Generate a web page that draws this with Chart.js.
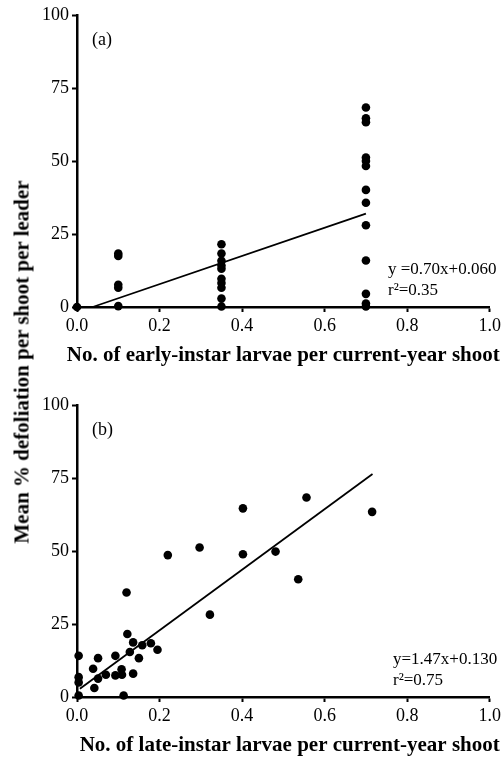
<!DOCTYPE html>
<html>
<head>
<meta charset="utf-8">
<script src="https://cdn.jsdelivr.net/npm/chart.js@4/dist/chart.umd.min.js"></script>
<style>
  body { margin: 0; background: #fff; }
  #wrap { position: relative; width: 504px; height: 759px; }
  canvas { position: absolute; left: 0; }
  #chartA { top: 0; }
  #chartB { top: 380px; }
  #ytitle {
    position: absolute; left: 22px; top: 362px;
    transform: translate(-50%, -50%) rotate(-90deg);
    white-space: nowrap; color: #000;
    font: bold 21px "Liberation Serif", serif;
  }
</style>
</head>
<body>
<div id="wrap">
  <canvas id="chartA" width="504" height="380"></canvas>
  <canvas id="chartB" width="504" height="379"></canvas>
  <div id="ytitle">Mean % defoliation per shoot per leader</div>
</div>
<script>
// Panel (a): early-instar larvae
const earlyLarvae = [0,
  0.1, 0.1, 0.1, 0.1, 0.1,
  0.35, 0.35, 0.35, 0.35, 0.35, 0.35, 0.35, 0.35, 0.35, 0.35,
  0.7, 0.7, 0.7, 0.7, 0.7, 0.7, 0.7, 0.7, 0.7, 0.7, 0.7, 0.7, 0.7];
const earlyDefol = [0,
  18.3, 17.5, 7.6, 6.6, 0.3,
  21.5, 18.3, 15.8, 14.2, 13.1, 9.7, 8.2, 6.6, 2.9, 0.2,
  68.3, 64.6, 63.3, 51.2, 50.0, 48.3, 40.1, 35.7, 28.0, 15.9, 4.5, 1.2, 0.2];
const earlyFitX = [0.038, 0.70];
const earlyFitY = [0, 32];

// Panel (b): late-instar larvae
const lateLarvae = [0.004, 0.004, 0.004, 0.004, 0.039, 0.042, 0.051, 0.051, 0.070,
  0.093, 0.093, 0.108, 0.109, 0.113, 0.120, 0.122, 0.128, 0.136, 0.136, 0.150,
  0.158, 0.179, 0.195, 0.220, 0.297, 0.322, 0.402, 0.402, 0.481, 0.536, 0.556, 0.715];
const lateDefol = [14.1, 6.8, 5.0, 0.5, 9.7, 3.1, 13.3, 6.3, 7.6,
  14.1, 7.4, 9.5, 7.6, 0.5, 35.8, 21.6, 15.4, 18.7, 8.0, 13.3,
  17.7, 18.4, 16.2, 48.6, 51.2, 28.2, 64.6, 48.9, 49.8, 40.3, 68.3, 63.4];
const lateFitX = [0.007, 0.716];
const lateFitY = [2.8, 76.4];

const xTicks = [0, 0.2, 0.4, 0.6, 0.8, 1.0];
const yTicks = [0, 25, 50, 75, 100];

const serif = '"Liberation Serif", "Times New Roman", serif';

// draws panel letter, regression equation and x-axis title
const panelText = {
  id: 'panelText',
  afterDraw(chart, args, opts) {
    const ctx = chart.ctx;
    const area = chart.chartArea;
    ctx.save();
    ctx.fillStyle = '#000';
    ctx.textBaseline = 'middle';
    ctx.textAlign = 'left';
    ctx.font = '18px ' + serif;
    ctx.fillText(opts.label, area.left + 15, area.top + 25);
    ctx.font = '17px ' + serif;
    opts.eq.forEach((line, i) => {
      ctx.fillText(line, opts.eqX, area.bottom - 37 + i * 21);
    });
    ctx.font = 'bold 21px ' + serif;
    ctx.textAlign = 'right';
    ctx.fillText(opts.title, area.right + 10, area.bottom + opts.titleGap);
    ctx.restore();
  }
};

function toPoints(xs, ys) {
  return xs.map((x, i) => ({ x: x, y: ys[i] }));
}

function makeChart(id, xs, ys, fitX, fitY, top, xHeight, text) {
  return new Chart(document.getElementById(id), {
    type: 'scatter',
    data: {
      datasets: [
        {
          data: toPoints(xs, ys),
          pointRadius: 4.3,
          pointHoverRadius: 4.3,
          pointBackgroundColor: '#000',
          pointBorderWidth: 0,
          clip: false
        },
        {
          data: toPoints(fitX, fitY),
          showLine: true,
          borderColor: '#000',
          borderWidth: 1.8,
          pointRadius: 0,
          clip: false
        }
      ]
    },
    options: {
      responsive: false,
      animation: false,
      devicePixelRatio: 1,
      layout: { padding: { top: top, right: 14, left: 0, bottom: 0 } },
      plugins: {
        legend: { display: false },
        tooltip: { enabled: false },
        panelText: text
      },
      scales: {
        x: {
          type: 'linear',
          min: 0,
          max: 1,
          afterBuildTicks: s => { s.ticks = xTicks.map(v => ({ value: v })); },
          afterFit: s => { s.height = xHeight; },
          ticks: {
            color: '#000',
            padding: 3,
            maxRotation: 0,
            font: { family: serif, size: 18 },
            callback: v => v.toFixed(1)
          },
          grid: { drawOnChartArea: false, tickLength: 5, tickWidth: 2, color: '#000' },
          border: { color: '#000', width: 2.5 }
        },
        y: {
          min: 0,
          max: 100,
          afterBuildTicks: s => { s.ticks = yTicks.map(v => ({ value: v })); },
          afterFit: s => { s.width = 77; },
          ticks: {
            color: '#000',
            padding: 3,
            font: { family: serif, size: 18 }
          },
          grid: { drawOnChartArea: false, tickLength: 5, tickWidth: 2, color: '#000' },
          border: { color: '#000', width: 2.5 }
        }
      }
    },
    plugins: [panelText]
  });
}

makeChart('chartA', earlyLarvae, earlyDefol, earlyFitX, earlyFitY, 15, 73, {
  label: '(a)',
  eq: ['y =0.70x+0.060', 'r\u00b2=0.35'],
  eqX: 388,
  title: 'No. of early-instar larvae per current-year shoot',
  titleGap: 49
});

makeChart('chartB', lateLarvae, lateDefol, lateFitX, lateFitY, 25, 62, {
  label: '(b)',
  eq: ['y=1.47x+0.130', 'r\u00b2=0.75'],
  eqX: 393,
  title: 'No. of late-instar larvae per current-year shoot',
  titleGap: 49
});
</script>
</body>
</html>
